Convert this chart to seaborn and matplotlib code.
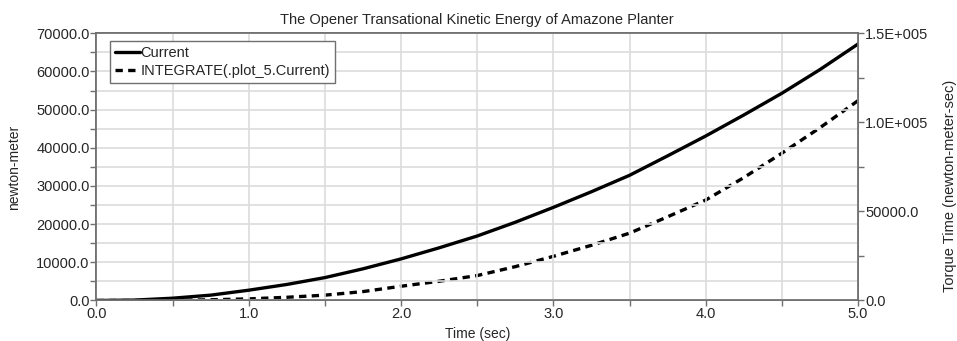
import pandas as pd
import matplotlib
matplotlib.use("Agg")
import matplotlib.pyplot as plt
import seaborn as sns
from matplotlib.ticker import MultipleLocator, FuncFormatter
from matplotlib.lines import Line2D

# values
time_sec = [0.0, 0.25, 0.5, 0.75, 1.0, 1.25, 1.5, 1.75, 2.0, 2.25, 2.5,
            2.75, 3.0, 3.25, 3.5, 3.75, 4.0, 4.25, 4.5, 4.75, 5.0]
current = [0, 100, 600, 1400, 2700, 4200, 6000, 8300, 10900, 13800, 16900,
           20500, 24400, 28500, 32800, 37900, 43100, 48600, 54300, 60500, 67200]
integrated = [0, 0, 100, 400, 900, 1800, 3000, 5000, 8000, 10800, 14000,
              19000, 24800, 31000, 37800, 47000, 56400, 69000, 82700, 97000, 112200]

df = pd.DataFrame({"Time": time_sec, "Current": current, "Integrated": integrated})

sns.set_style("whitegrid")
plt.rcParams['font.family'] = ['Liberation Sans', 'DejaVu Sans']
plt.rcParams['font.size'] = 10.5

fig = plt.figure(figsize=(9.57, 3.41), dpi=100)
ax = fig.add_axes([0.1008, 0.1188, 0.7958, 0.7835])
ax2 = ax.twinx()

dash = (0, (2.2, 1.6))
sns.lineplot(data=df, x="Time", y="Current", ax=ax, color="black", linewidth=2.4)
sns.lineplot(data=df, x="Time", y="Integrated", ax=ax2, color="black", linewidth=2.4,
             linestyle=dash)
for a in (ax, ax2):
    for ln in a.get_lines():
        ln.set_solid_joinstyle("round")
        ln.set_dash_joinstyle("round")

ax.set_xlim(0, 5)
ax.set_ylim(0, 70000)
ax2.set_ylim(0, 150000)

ax.xaxis.set_major_locator(MultipleLocator(1.0))
ax.xaxis.set_minor_locator(MultipleLocator(0.5))
ax.yaxis.set_major_locator(MultipleLocator(10000))
ax.yaxis.set_minor_locator(MultipleLocator(5000))
ax2.yaxis.set_major_locator(MultipleLocator(50000))
ax2.yaxis.set_minor_locator(MultipleLocator(25000))

ax.xaxis.set_major_formatter(FuncFormatter(lambda v, p: f"{v:.1f}"))
ax.yaxis.set_major_formatter(FuncFormatter(lambda v, p: f"{v:.1f}"))

def right_fmt(v, p):
    if v >= 100000:
        return f"{v / 100000:.1f}E+005"
    return f"{v:.1f}"

ax2.yaxis.set_major_formatter(FuncFormatter(right_fmt))

grid_color = "#dcdcdc"
ax.grid(True, which="both", color=grid_color, linewidth=1.2)
ax2.grid(False)

for a in (ax, ax2):
    for s in a.spines.values():
        s.set_color("#707070")
        s.set_linewidth(1.2)
ax.tick_params(axis="both", which="both", direction="out", length=4, width=1,
               color="#707070", labelsize=10.5, pad=1, left=True, bottom=True)
ax2.tick_params(axis="y", which="both", direction="out", length=4, width=1,
                color="#707070", labelsize=10.5, pad=1, right=True)

ax.set_xlabel("Time (sec)", fontsize=10, labelpad=4)
ax.set_ylabel("newton-meter", fontsize=10)
ax.yaxis.set_label_coords(-0.099, 0.5)
ax2.set_ylabel("Torque Time (newton-meter-sec)", fontsize=10.5)
ax2.yaxis.set_label_coords(1.112, 0.43)
ax.set_title("The Opener Transational Kinetic Energy of Amazone Planter",
             fontsize=10.5, pad=7)

handles = [Line2D([], [], color="black", linewidth=2.4),
           Line2D([], [], color="black", linewidth=2.4, linestyle=dash)]
leg = ax.legend(handles, ["Current", "INTEGRATE(.plot_5.Current)"],
                loc="upper left", bbox_to_anchor=(0.0085, 1.0), fontsize=10.5,
                handlelength=1.7, handletextpad=0.0, borderpad=0.35,
                labelspacing=0.3, fancybox=False, framealpha=1)
leg.get_frame().set_edgecolor("#707070")
leg.get_frame().set_linewidth(1.0)
ax.set_zorder(ax2.get_zorder() + 1)
ax.patch.set_visible(False)
leg.set_zorder(10)

fig.savefig("out.png", dpi=100)
